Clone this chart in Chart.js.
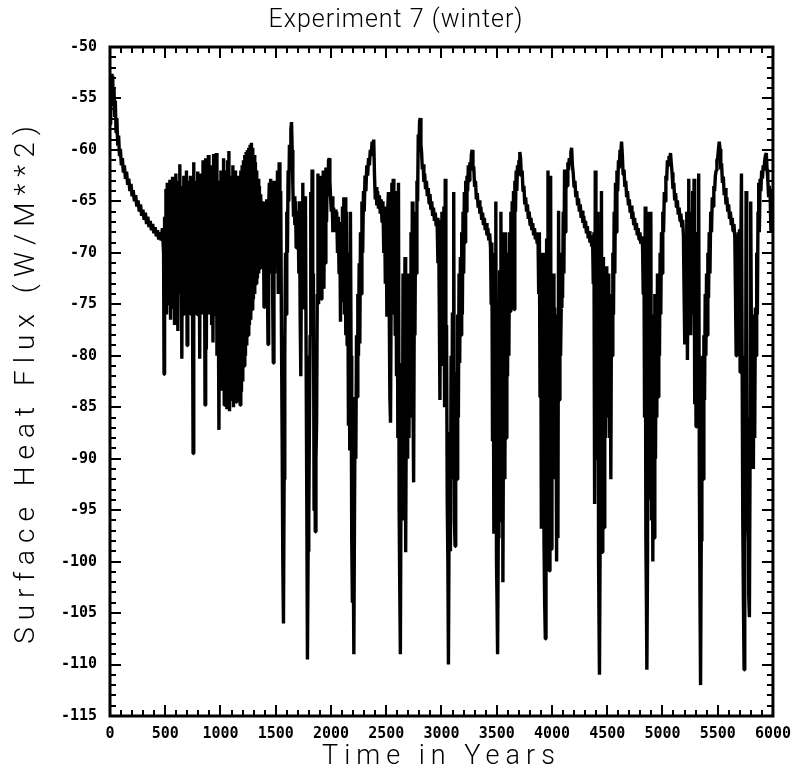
<!DOCTYPE html>
<html>
<head>
<meta charset="utf-8">
<title>Experiment 7 (winter)</title>
<script src="https://cdn.jsdelivr.net/npm/chart.js@4.4.1/dist/chart.umd.min.js"></script>
<style>
  html, body { margin: 0; padding: 0; background: #fff; }
  #wrap { width: 792px; height: 774px; }
</style>
</head>
<body>
<div id="wrap"><canvas id="fluxChart" width="792" height="774"></canvas></div>
<script>
// tick labels
const xMajorTicks = [0, 500, 1000, 1500, 2000, 2500, 3000, 3500, 4000, 4500, 5000, 5500, 6000];
const yMajorTicks = [-115, -110, -105, -100, -95, -90, -85, -80, -75, -70, -65, -60, -55, -50];

// [year, W/m2]
const spinUp = [
  [0,-57.5],[6,-54.5],[12,-52.6],[18,-53.5],[24,-52.8],[30,-55.6],[36,-53.9],[42,-56.8],[48,-55.2],[55,-58.3],
  [62,-56.9],[70,-59.6],[78,-58.6],[86,-60.6],[94,-59.9],[103,-61.5],[112,-60.8],[121,-62.2],[130,-61.5],[140,-62.8],
  [150,-62.1],[160,-63.4],[170,-62.8],[180,-64],[190,-63.3],[200,-64.5],[210,-63.9],[221,-65],[232,-64.4],[243,-65.5],
  [254,-64.9],[265,-66],[276,-65.3],[287,-66.4],[298,-65.8],[309,-66.8],[320,-66.1],[331,-67.2],[342,-66.5],[353,-67.5],
  [364,-66.9],[375,-67.8],[386,-67.2],[397,-68.1],[408,-67.5],[419,-68.4],[430,-67.8],[441,-68.7],[452,-68],[463,-68.8],
  [474,-67.6]
];

const noisyPhase = [
  [485,-70],[489,-81.8],[494,-66.5],[500,-74],[506,-63.8],[512,-76],[518,-63.2],[524,-73],[530,-64],[536,-75],
  [542,-62.9],[548,-76.5],[554,-64.5],[560,-74],[566,-62.6],[572,-75.3],[578,-63.5],[584,-77],[590,-65],[596,-62.3],
  [602,-74],[608,-66],[614,-77.6],[620,-63],[626,-73],[632,-61.4],[638,-74],[644,-64],[650,-80.3],[656,-63.5],
  [662,-76],[668,-62.5],[674,-75],[680,-63],[686,-73],[692,-62],[698,-79],[704,-64],[710,-76],[716,-63],
  [722,-74],[728,-62.5],[734,-76],[740,-64],[746,-73],[752,-89.5],[758,-61.2],[764,-75],[770,-64],[776,-74],
  [782,-63],[788,-76],[794,-62.1],[800,-76],[806,-63],[812,-80.3],[818,-62.3],[824,-74],[830,-64],[836,-76],
  [842,-61],[848,-75],[854,-63.5],[860,-84.8],[866,-60.8],[872,-79.4],[878,-62],[884,-75],[890,-60.5],[896,-76],
  [902,-64],[908,-74],[914,-61.5],[920,-77],[926,-63],[932,-78.7],[938,-60.4],[944,-76],[950,-62],[956,-75],
  [962,-60.3],[968,-80],[974,-63],[980,-74.2],[986,-87.2],[992,-64],[998,-78],[1004,-62],[1010,-83.4],[1016,-65],
  [1022,-78],[1028,-60.8],[1034,-84.8],[1040,-63],[1046,-80],[1052,-62],[1058,-85.2],[1064,-61],[1070,-82],[1076,-60.1],
  [1082,-85.4],[1088,-63],[1094,-84],[1100,-62.5],[1106,-84.3],[1112,-61.5],[1118,-85],[1124,-62.8],[1130,-83],[1136,-62],
  [1142,-84.5],[1148,-63],[1154,-82.5],[1160,-62.5],[1166,-84.3],[1172,-63.5],[1178,-84.8],[1184,-62],[1190,-83.5],[1196,-61.5],
  [1202,-82.5],[1208,-61],[1214,-81],[1220,-60.5],[1226,-80],[1232,-60.2],[1238,-79],[1244,-60],[1250,-78],[1256,-59.8],
  [1262,-77],[1268,-59.5],[1274,-76.5],[1280,-59.3],[1286,-75.5],[1292,-59.8],[1298,-74.5],[1304,-60.5],[1310,-74],[1316,-61.2],
  [1322,-73],[1328,-62],[1334,-72.5],[1340,-62.8],[1346,-72],[1352,-63.5],[1358,-71.5],[1364,-64.3],[1370,-70],[1376,-65],
  [1382,-68.5],[1388,-66],[1394,-75.3],[1400,-65],[1406,-69],[1412,-73],[1418,-64.8],[1424,-72],[1430,-78.9],[1436,-65.5],
  [1442,-63.2],[1448,-72],[1454,-62.8],[1460,-69],[1466,-64],[1472,-74],[1478,-80.7],[1484,-63],[1490,-72],[1496,-63.5]
];

const oscA = [
  [1501,-63.5],[1508,-70],[1516,-62],[1523,-74],[1531,-61.2],[1538,-72],[1545,-64],[1552,-78],[1558,-88],[1564,-100],
  [1570,-106],[1576,-92],[1582,-80],[1588,-70],[1594,-76],[1600,-66],[1606,-70],[1612,-62],[1618,-65],[1624,-59.5],
  [1630,-61],[1637,-58],[1643,-57.3],[1649,-60],[1655,-63.5],[1661,-66.5],[1667,-64.5],[1673,-67.3],[1679,-65],[1685,-69.5],
  [1691,-65.9],[1697,-68],[1703,-66.4],[1709,-72],[1715,-65],[1721,-76],[1727,-82],[1733,-70],[1739,-75.3],[1745,-63.2],
  [1751,-74],[1757,-66],[1763,-75.5],[1769,-64.5],[1775,-80],[1781,-94],[1787,-109.5],[1793,-99],[1799,-96],[1805,-86.5],
  [1811,-78],[1817,-64.1],[1823,-74],[1829,-61.9],[1835,-76],[1841,-72],[1847,-95],[1853,-84],[1858,-97.1],[1864,-90],
  [1870,-86.5],[1876,-74],[1882,-62.3],[1888,-75],[1894,-63],[1900,-74],[1906,-62.5],[1912,-74.5],[1918,-63],[1924,-73],
  [1930,-62],[1936,-73.5],[1942,-62.5],[1948,-71],[1954,-61.7],[1960,-67],[1966,-62],[1972,-64.5],[1978,-61],[1984,-60.8],
  [1990,-63],[1996,-64.5],[2003,-66],[2010,-64.5],[2017,-68],[2024,-65.6],[2031,-67.3],[2038,-65.8],[2045,-68],[2052,-66],
  [2059,-70],[2066,-66.5],[2073,-72],[2080,-67],[2086,-76.7],[2092,-67],[2098,-74.8],[2104,-65.5],[2110,-72],[2116,-64.6],
  [2122,-76],[2128,-64.6],[2134,-78],[2140,-66],[2146,-79],[2152,-70],[2158,-86.8],[2164,-75],[2170,-89.2],[2176,-66],
  [2182,-80],[2188,-98],[2194,-104],[2200,-97],[2207,-109],[2213,-95],[2219,-84],[2225,-90],[2231,-78],[2237,-84],
  [2243,-74],[2249,-80],[2255,-71],[2261,-78.8],[2267,-68],[2273,-74],[2280,-65],[2287,-70],[2294,-64],[2301,-66],
  [2308,-62.5],[2316,-64],[2324,-61.5],[2332,-62.5],[2340,-60.8],[2348,-61.5],[2356,-60],[2364,-60.6],[2372,-59.2],[2380,-59.6],
  [2387,-59],[2394,-62.5],[2401,-64.8],[2408,-63.6],[2415,-65.4],[2422,-64],[2430,-65.7],[2438,-64.4],[2446,-66.2],[2454,-64.8],
  [2462,-67],[2470,-65],[2478,-70],[2485,-65.5],[2492,-73],[2499,-66],[2506,-76.2],[2513,-66],[2520,-64.1],[2527,-75],
  [2533,-84],[2539,-86.5],[2545,-73],[2551,-63.2],[2557,-74],[2563,-62.8],[2569,-76],[2575,-64],[2581,-78],[2587,-66],
  [2593,-82],[2599,-64],[2605,-88],[2611,-63.2],[2617,-95],[2622,-102],[2628,-109],[2634,-92],[2640,-80.7],[2646,-96],
  [2652,-72],[2658,-92.4],[2664,-78],[2670,-70.4],[2676,-99.1],[2682,-84],[2688,-74],[2694,-90],[2700,-72],[2706,-88],
  [2712,-74],[2718,-83.4],[2724,-68],[2730,-86],[2736,-65],[2742,-84],[2748,-92.3],[2754,-74],[2760,-78],[2766,-66],
  [2772,-72],[2778,-63],[2784,-65],[2790,-58.5],[2796,-60],[2802,-57.2],[2808,-56.9],[2814,-59.5],[2820,-60.2],[2827,-61.9],
  [2834,-61.4],[2841,-63.1],[2848,-62.3],[2856,-63.8],[2864,-63],[2872,-64.5],[2880,-63.7],[2888,-65.2],[2896,-64.3],[2904,-65.8],
  [2912,-65],[2920,-66.4],[2928,-65.6],[2936,-66.9],[2944,-66.1],[2952,-67.4]
];

const oscB = [
  [2960,-66.6],[2968,-71],[2974,-66.8],[2980,-75],[2986,-84.3],[2992,-71],[2998,-78],[3004,-66],[3010,-81],[3016,-70.4],
  [3022,-65.5],[3028,-85],[3034,-62.8],[3040,-82],[3046,-77],[3052,-94],[3058,-100],[3063,-110],[3069,-96],[3075,-87.4],
  [3081,-99],[3087,-80],[3093,-92],[3099,-75.8],[3105,-90],[3111,-64.1],[3117,-96],[3123,-98.5],[3129,-88],[3135,-81.6],
  [3141,-92],[3147,-76],[3153,-86],[3159,-72],[3165,-80.7],[3171,-70.4],[3177,-78],[3183,-68],[3189,-76],[3195,-66],
  [3201,-72],[3207,-64.1],[3213,-69],[3219,-63],[3225,-66],[3231,-62.5],[3237,-64],[3243,-61.5],[3250,-63],[3257,-61.2],
  [3264,-62],[3271,-60.4],[3278,-60],[3285,-61.8],[3292,-61.6],[3300,-63.6],[3308,-63],[3316,-64.8],[3324,-64.2],[3332,-65.6],
  [3340,-64.9],[3348,-66.2],[3356,-65.5],[3364,-66.8],[3372,-66.1],[3380,-67.3],[3388,-66.6],[3396,-67.8],[3404,-67.1],[3412,-68.3],
  [3420,-67.6],[3428,-68.8],[3436,-68.1],[3444,-69.5],[3450,-75],[3456,-69],[3462,-88.3],[3468,-72],[3474,-97.3],[3480,-70],
  [3486,-90],[3492,-65],[3498,-100],[3503,-104],[3508,-109],[3514,-97.7],[3520,-85],[3526,-71.7],[3532,-96],[3538,-66],
  [3544,-90],[3550,-68],[3556,-102],[3562,-84],[3568,-75],[3574,-92],[3580,-68],[3586,-88],[3592,-76],[3598,-82],
  [3604,-70],[3610,-80],[3616,-68],[3622,-75.7],[3628,-66],[3634,-74],[3640,-65],[3646,-72],[3652,-64],[3658,-75.5],
  [3664,-63],[3670,-66],[3676,-62],[3682,-64],[3688,-61.5],[3695,-62.5],[3702,-61],[3709,-60.2],[3716,-60.8],[3723,-62.6],
  [3730,-62],[3738,-64],[3746,-63.5],[3754,-65.3],[3762,-64.6],[3770,-66],[3778,-65.3],[3786,-66.7],[3794,-66],[3802,-67.3],
  [3810,-66.6],[3818,-67.8],[3826,-67.1],[3834,-68.3],[3842,-67.6],[3850,-68.7],[3858,-68],[3866,-69.1],[3874,-68.5],[3880,-74],
  [3886,-68],[3892,-84],[3898,-70],[3904,-96.8],[3910,-72],[3916,-84.3],[3922,-70],[3928,-98],[3934,-104],[3940,-107.5],
  [3946,-86],[3952,-68.6],[3958,-90],[3964,-62],[3970,-93.7],[3976,-100.9],[3982,-86],[3988,-62.5],[3994,-98.8],[4000,-78],
  [4006,-89.7],[4012,-72],[4018,-92],[4024,-75.3],[4030,-90],[4036,-80],[4042,-100],[4048,-76],[4054,-97.7],[4060,-65.9],
  [4066,-84.3],[4072,-70],[4078,-80],[4084,-75.3],[4090,-70],[4096,-74.4],[4102,-66],[4108,-72],[4114,-61.9],[4120,-68],
  [4126,-64],[4132,-62.5],[4138,-63.5],[4144,-61.2],[4150,-62],[4157,-60.8],[4164,-61.2],[4171,-60.2],[4178,-59.8],[4185,-61.5],
  [4192,-62.2],[4200,-63.6],[4208,-63],[4216,-64.6],[4224,-64],[4232,-65.4],[4240,-64.7],[4248,-66],[4256,-65.3],[4264,-66.6],
  [4272,-65.9],[4280,-67.1],[4288,-66.4],[4296,-67.6],[4304,-66.9],[4312,-68.1],[4320,-67.4],[4328,-68.6],[4336,-67.9],[4344,-69],
  [4352,-68.3],[4360,-69.4]
];

const oscC = [
  [4368,-68.8],[4374,-73],[4380,-68],[4386,-94.4],[4392,-62],[4398,-84],[4404,-69],[4410,-90],[4416,-66],[4422,-100],
  [4426,-106],[4430,-111],[4436,-98],[4442,-90],[4448,-64],[4454,-99.1],[4460,-80],[4466,-70.4],[4472,-96.7],[4478,-76],
  [4484,-88],[4490,-71.3],[4496,-86],[4502,-74],[4508,-84],[4514,-72],[4520,-88],[4526,-75],[4533,-92],[4539,-74],
  [4545,-80],[4551,-70],[4557,-76],[4563,-66],[4569,-72],[4575,-63.2],[4581,-68],[4588,-62],[4595,-64],[4602,-61],
  [4609,-61.8],[4616,-60],[4623,-60.3],[4630,-59.2],[4637,-60.5],[4644,-62.4],[4652,-61.9],[4660,-63.6],[4668,-63],[4676,-64.6],
  [4684,-64],[4692,-65.4],[4700,-64.8],[4708,-66.1],[4716,-65.4],[4724,-66.7],[4732,-66],[4740,-67.3],[4748,-66.6],[4756,-67.8],
  [4764,-67.1],[4772,-68.3],[4780,-67.6],[4788,-68.7],[4796,-68],[4804,-69.1],[4812,-68.4],[4820,-69.4],[4826,-74],[4832,-68.5],
  [4838,-86],[4844,-65.5],[4850,-97.8],[4855,-104],[4859,-110.5],[4865,-100],[4871,-66],[4877,-94],[4883,-78],[4889,-90],
  [4895,-66],[4901,-96],[4907,-80],[4913,-100],[4919,-76],[4925,-97.7],[4931,-74],[4937,-90],[4943,-76],[4949,-86],
  [4955,-72],[4961,-84],[4967,-74],[4973,-80],[4979,-70],[4985,-76],[4991,-68],[4997,-72],[5003,-66],[5010,-68],
  [5017,-64.1],[5024,-65],[5031,-62.5],[5038,-63],[5045,-61],[5052,-61.5],[5059,-60.6],[5066,-60.8],[5073,-60.3],[5080,-61.3],
  [5087,-62.2],[5095,-63.8],[5103,-63.2],[5111,-64.9],[5119,-64.2],[5127,-65.6],[5135,-64.9],[5143,-66.3],[5151,-65.6],[5159,-66.9],
  [5167,-66.2],[5175,-67.5],[5183,-66.8],[5190,-68.4],[5196,-74],[5202,-78.9],[5208,-68.6],[5214,-73],[5220,-66],[5226,-80.4],
  [5232,-70],[5238,-62.8],[5244,-73],[5250,-66],[5256,-78],[5262,-68],[5268,-75],[5274,-64],[5280,-76],[5286,-62.8],
  [5292,-84.7],[5298,-70],[5304,-86.9],[5310,-74],[5316,-84],[5322,-68],[5328,-62.3],[5334,-92],[5340,-104],[5345,-112],
  [5351,-98],[5357,-90],[5363,-80],[5369,-92],[5375,-78],[5381,-84.3],[5387,-74],[5393,-80],[5399,-72],[5405,-78],
  [5411,-70],[5417,-74.4],[5423,-68],[5430,-72],[5437,-66],[5444,-68],[5451,-64.6],[5458,-65.5],[5465,-63.5],[5472,-64],
  [5479,-62.5],[5486,-62],[5493,-61],[5500,-60.8],[5507,-59.9],[5514,-59.2],[5521,-59.9],[5528,-61.9],[5535,-61.3],[5543,-63.2],
  [5551,-62.6],[5559,-64.4],[5567,-63.7],[5575,-65.3],[5583,-64.6],[5591,-66],[5599,-65.3],[5607,-66.7],[5615,-66],[5623,-67.3],
  [5631,-66.6],[5639,-67.9],[5647,-67.2],[5655,-68.5],[5661,-74],[5667,-80],[5673,-69],[5679,-78],[5685,-68],[5691,-74],
  [5697,-67.7],[5703,-81.6],[5709,-70],[5715,-62.3],[5721,-80],[5727,-96],[5733,-104],[5739,-110.5],[5745,-98],[5751,-96],
  [5757,-64],[5763,-74.4],[5769,-92],[5775,-86],[5781,-103.3],[5787,-105.4],[5793,-90],[5799,-65],[5805,-78],[5811,-88],
  [5817,-79],[5823,-91],[5829,-76],[5835,-88],[5841,-75.3],[5847,-80],[5853,-70],[5859,-76],[5865,-66],[5871,-63.2],
  [5877,-68],[5884,-62.8],[5891,-64],[5898,-62],[5905,-62.8],[5912,-61.5],[5919,-62],[5926,-61],[5933,-60.5],[5940,-60.3],
  [5947,-61.9],[5954,-63],[5961,-64.6],[5968,-63.5],[5975,-64.6],[5982,-68],[5990,-65],[5998,-63.8]
];

const flux = [].concat(spinUp, noisyPhase, oscA, oscB, oscC).map(p => ({ x: p[0], y: p[1] }));

const titleFont = { family: "Roboto, 'DejaVu Sans', sans-serif", weight: "300" };
const tickFont = { family: "'DejaVu Sans Mono', monospace", weight: "bold", size: 15 };

// ticks point inward on all four sides, long ones at labelled values
const frameTicks = {
  id: "frameTicks",
  afterDraw(chart) {
    const { ctx, chartArea: a, scales } = chart;
    ctx.save();
    ctx.strokeStyle = "#000";
    ctx.lineWidth = 2;
    ctx.beginPath();
    scales.x.ticks.forEach(t => {
      const px = Math.round(scales.x.getPixelForValue(t.value));
      const len = xMajorTicks.includes(t.value) ? 11 : 6;
      ctx.moveTo(px, a.bottom); ctx.lineTo(px, a.bottom - len);
      ctx.moveTo(px, a.top); ctx.lineTo(px, a.top + len);
    });
    scales.y.ticks.forEach(t => {
      const py = Math.round(scales.y.getPixelForValue(t.value));
      const len = yMajorTicks.includes(t.value) ? 11 : 6;
      ctx.moveTo(a.left, py); ctx.lineTo(a.left + len, py);
      ctx.moveTo(a.right, py); ctx.lineTo(a.right - len, py);
    });
    ctx.stroke();
    ctx.lineWidth = 3;
    ctx.strokeRect(a.left, a.top, a.right - a.left, a.bottom - a.top);
    ctx.restore();
  }
};

// the old plot package spaces its letters out
const spacedText = {
  id: "spacedText",
  beforeDraw(chart) {
    const jobs = [
      [chart.titleBlock, "draw", "1px"],
      [chart.scales.x, "drawTitle", "6px"],
      [chart.scales.y, "drawTitle", "7px"]
    ];
    jobs.forEach(([obj, fn, gap]) => {
      if (!obj || obj["_sp_" + fn]) return;
      const orig = obj[fn];
      obj[fn] = function (...args) {
        const c = this.ctx;
        c.save();
        c.letterSpacing = gap;
        orig.apply(this, args);
        c.restore();
      };
      obj["_sp_" + fn] = true;
    });
  }
};

new Chart(document.getElementById("fluxChart"), {
  type: "line",
  data: {
    datasets: [{
      data: flux,
      borderColor: "#000",
      borderWidth: 3.4,
      borderJoinStyle: "bevel",
      pointRadius: 0,
      tension: 0,
      fill: false
    }]
  },
  options: {
    responsive: false,
    animation: false,
    events: [],
    layout: { padding: 0 },
    plugins: {
      legend: { display: false },
      tooltip: { enabled: false },
      title: {
        display: true,
        text: "Experiment 7 (winter)",
        color: "#000",
        font: { ...titleFont, size: 25, lineHeight: 1.2 },
        padding: { top: 6, bottom: 11 }
      }
    },
    scales: {
      x: {
        type: "linear",
        min: 0,
        max: 6000,
        grid: { display: false },
        border: { display: false },
        ticks: {
          stepSize: 100,
          autoSkip: false,
          maxRotation: 0,
          padding: 1,
          color: "#000",
          font: tickFont,
          callback: v => (xMajorTicks.includes(v) ? String(v) : "")
        },
        title: {
          display: true,
          text: "Time in Years",
          color: "#000",
          font: { ...titleFont, size: 27, lineHeight: 1.2 },
          padding: { top: 0, bottom: 1 }
        },
        afterFit(scale) { scale.height = 58; }
      },
      y: {
        type: "linear",
        min: -115,
        max: -50,
        grid: { display: false },
        border: { display: false },
        ticks: {
          stepSize: 1,
          autoSkip: false,
          padding: 5,
          color: "#000",
          font: tickFont,
          callback: v => (yMajorTicks.includes(v) ? String(v) : "")
        },
        title: {
          display: true,
          text: "Surface Heat Flux (W/M**2)",
          color: "#000",
          font: { ...titleFont, size: 28, lineHeight: 1.2 },
          padding: { top: 10, bottom: 0 }
        },
        afterFit(scale) { scale.width = 110; }
      }
    }
  },
  plugins: [spacedText, frameTicks]
});
</script>
</body>
</html>
